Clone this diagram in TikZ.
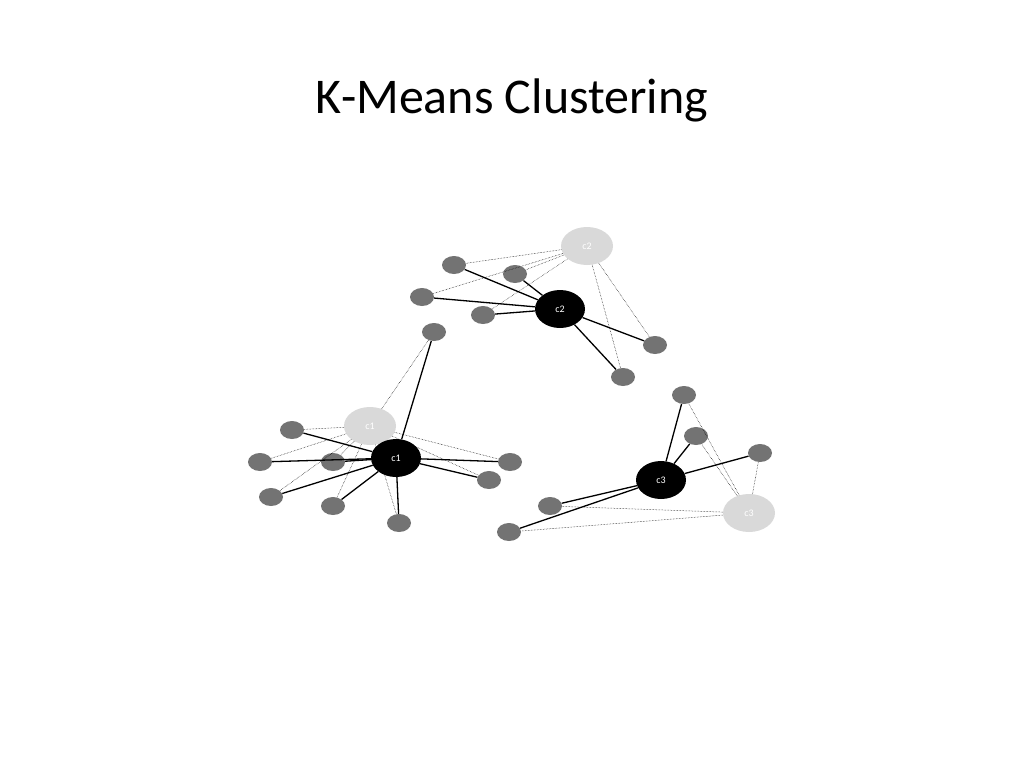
\documentclass[tikz,border=0pt]{standalone}
\usepackage{fontspec}
\setmainfont{Carlito}
\usetikzlibrary{shapes.geometric}
\begin{document}
\begin{tikzpicture}[x=1pt,y=-1pt,
  pt/.style={ellipse,fill=black!55,minimum width=24pt,minimum height=18pt,inner sep=0pt},
  cen/.style={ellipse,fill=black,text=white,minimum width=50pt,minimum height=38pt,inner sep=0pt,font=\fontsize{10}{10}\selectfont},
  old/.style={ellipse,fill=black!15,text=white,minimum width=52pt,minimum height=38pt,inner sep=0pt,font=\fontsize{10}{10}\selectfont},
  sl/.style={line width=1.3pt},
  dl/.style={densely dotted,line width=0.5pt}]
\useasboundingbox (0,0) rectangle (1024,768);
\node (title) at (512,100) {\fontsize{50}{60}\selectfont K-Means Clustering};
% cluster 2
\node[old] (o2) at (587,246) {c2};
\foreach \n/\x/\y in {a/454/265,b/515/274,c/422/297,d/483/315,e/655/345,f/623/377}
  \node[pt] (\n) at (\x,\y) {};
\foreach \n in {a,b,c,d,e,f} \draw[dl] (o2) -- (\n);
\node[cen] (k2) at (560,309) {c2};
\foreach \n in {a,b,c,d,e,f} \draw[sl] (k2) -- (\n);
% cluster 1
\node[old] (o1) at (370,426) {c1};
\foreach \n/\x/\y in {t/434/332,p1/292/430,p2/260/462,p3/333/462,p4/271/497,p5/333/506,p6/399/523,p7/510/462,p8/489/480}
  \node[pt] (\n) at (\x,\y) {};
\foreach \n in {t,p1,p2,p3,p4,p5,p6,p7,p8} \draw[dl] (o1) -- (\n);
\node[cen] (k1) at (396,458) {c1};
\foreach \n in {t,p1,p2,p3,p4,p5,p6,p7,p8} \draw[sl] (k1) -- (\n);
% cluster 3
\node[old] (o3) at (749,513) {c3};
\foreach \n/\x/\y in {q1/684/395,q2/696/436,q3/760/453,q4/550/506,q5/509/532}
  \node[pt] (\n) at (\x,\y) {};
\foreach \n in {q1,q2,q3,q4,q5} \draw[dl] (o3) -- (\n);
\node[cen] (k3) at (661,480) {c3};
\foreach \n in {q1,q2,q3,q4,q5} \draw[sl] (k3) -- (\n);
\end{tikzpicture}
\end{document}
